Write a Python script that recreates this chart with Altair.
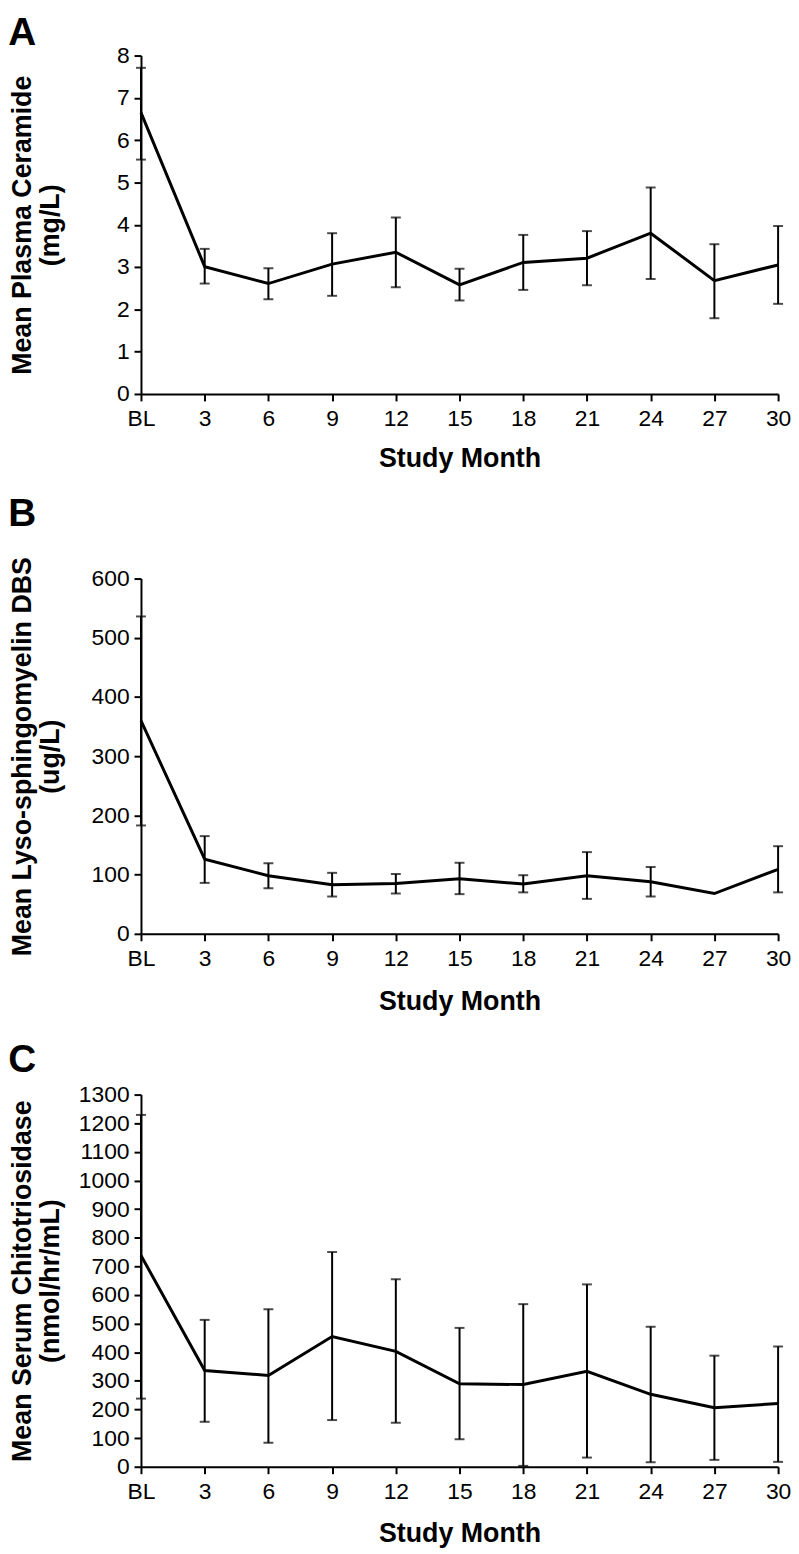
import altair as alt
import pandas as pd

months = [0, 3, 6, 9, 12, 15, 18, 21, 24, 27, 30]

# Panel A: Mean Plasma Ceramide (mg/L)
cer_mean = [6.65, 3.01, 2.61, 3.07, 3.35, 2.58, 3.11, 3.21, 3.80, 2.68, 3.05]
cer_hi = [7.71, 3.43, 2.97, 3.80, 4.17, 2.96, 3.76, 3.85, 4.88, 3.54, 3.97]
cer_lo = [5.54, 2.61, 2.24, 2.32, 2.52, 2.21, 2.46, 2.57, 2.72, 1.79, 2.13]

# Panel B: Mean Lyso-sphingomyelin DBS (ug/L)
lyso_mean = [360, 126, 98, 83, 85, 93, 84, 98, 88, 68, 109]
lyso_hi = [536, 165, 119, 103, 101, 120, 99, 138, 113, None, 148]
lyso_lo = [183, 86, 77, 63, 68, 67, 70, 59, 63, None, 70]

# Panel C: Mean Serum Chitotriosidase (nmol/hr/mL)
chit_mean = [738, 336, 319, 455, 403, 290, 287, 333, 253, 206, 221]
chit_hi = [1229, 513, 550, 750, 655, 485, 568, 637, 489, 388, 420]
chit_lo = [238, 157, 84, 163, 154, 96, 3, 32, 16, 24, 17]

FONT = "Liberation Sans"
W = 642
TITLE_X = -111.7


def panel(letter, mean, lo, hi, ymax, ystep, height, ytitle, letter_y, xtitle_y):
    df = pd.DataFrame({"month": months, "mean": mean, "lo": lo, "hi": hi})

    def xenc():
        return alt.X(
            "month:Q",
            scale=alt.Scale(domain=[0, 30], nice=False, zero=False),
            axis=alt.Axis(
                values=months,
                labelExpr="datum.value == 0 ? 'BL' : datum.label",
                title="Study Month",
                titleY=xtitle_y,
                titleBaseline="alphabetic",
                labelPadding=7,
                labelFlush=False,
                labelOverlap=False,
                grid=False,
            ),
        )

    def yenc(field):
        return alt.Y(
            f"{field}:Q",
            scale=alt.Scale(domain=[0, ymax], nice=False),
            axis=alt.Axis(
                values=list(range(0, ymax + 1, ystep)),
                format="d",
                title=ytitle,
                titleX=TITLE_X,
                titleY=height / 2,
                titleAngle=270,
                titleAlign="center",
                titleBaseline="alphabetic",
                titleLineHeight=29,
                labelPadding=5,
                labelOverlap=False,
                labelFlush=False,
                grid=False,
            ),
        )

    base = alt.Chart(df)
    valid = base.transform_filter("isValid(datum.lo) && isValid(datum.hi)")
    rule = valid.mark_rule(color="black", strokeWidth=2).encode(
        x=xenc(), y=yenc("lo"), y2="hi:Q"
    )
    cap_hi = valid.mark_tick(color="black", orient="horizontal", size=10, thickness=2).encode(
        x=xenc(), y=yenc("hi")
    )
    cap_lo = valid.mark_tick(color="black", orient="horizontal", size=10, thickness=2).encode(
        x=xenc(), y=yenc("lo")
    )
    line = base.mark_line(color="black", strokeWidth=3).encode(x=xenc(), y=yenc("mean"))
    label = alt.Chart(pd.DataFrame({"t": [letter]})).mark_text(
        align="left", baseline="alphabetic", fontSize=39, fontWeight="bold",
        font=FONT, color="black",
    ).encode(text="t:N", x=alt.value(TITLE_X - 22), y=alt.value(letter_y))
    return alt.layer(rule, cap_hi, cap_lo, line, label).properties(width=W, height=height)


pa = panel("A", cer_mean, cer_lo, cer_hi, 8, 1, 341,
           ["Mean Plasma Ceramide", "(mg/L)"], -11, 73)
pb = panel("B", lyso_mean, lyso_lo, lyso_hi, 600, 100, 358,
           ["Mean Lyso-sphingomyelin DBS", "(ug/L)"], -53, 76)
pc = panel("C", chit_mean, chit_lo, chit_hi, 1300, 100, 375,
           ["Mean Serum Chitotriosidase", "(nmol/hr/mL)"], -23, 75)

top = alt.vconcat(pa, pb, spacing=24)

chart = (
    alt.vconcat(top, pc, spacing=27)
    .properties(padding=0)
    .configure_view(strokeWidth=0)
    .configure_axis(
        domainColor="black",
        domainWidth=2,
        tickColor="black",
        tickWidth=2,
        tickSize=7,
        labelFont=FONT,
        labelFontSize=23,
        labelColor="black",
        titleFont=FONT,
        titleFontSize=27,
        titleFontWeight="bold",
        titleColor="black",
    )
)

chart.save("out.html", embed_options={"renderer": "svg", "actions": False})
